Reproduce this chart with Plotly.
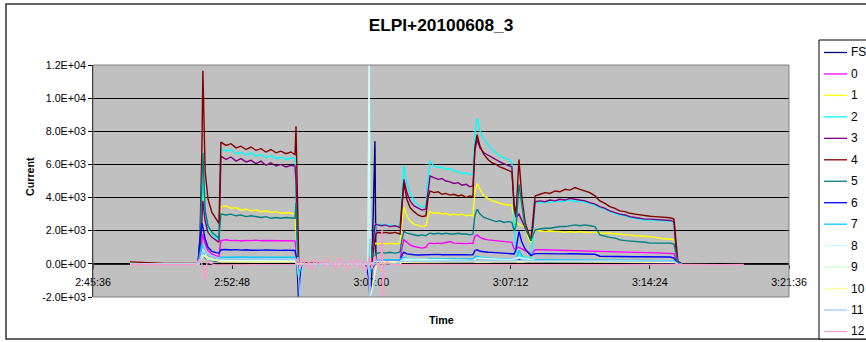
import plotly.graph_objects as go
from datetime import datetime

# ---------------------------------------------------------------
# ELPI impactor stage currents, 8 June 2010, run 3
# ---------------------------------------------------------------
TITLE = "ELPI+20100608_3"
SERIES_NAMES = ["FS", "0", "1", "2", "3", "4", "5", "6", "7", "8", "9", "10", "11", "12"]
SERIES_COLORS = ["#000080", "#FF00FF", "#FFFF00", "#00FFFF", "#800080", "#800000", "#008080",
                 "#0000FF", "#00CCFF", "#CCFFFF", "#CCFFCC", "#FFFF99", "#99CCFF", "#FF99CC"]

X_START, X_END = "2:45:36", "3:21:36"
X_STEP_S = 432                      # 7 min 12 s between time labels
Y_TICKS = [-2000, 0, 2000, 4000, 6000, 8000, 10000, 12000]

# Shared sampling times of the FS and 0-7 channels
T_MAIN = (
    ["2:47:31", "2:49:19", "2:51:02"]
    + ["2:51:08", "2:51:14", "2:51:17", "2:51:24", "2:51:33", "2:51:45", "2:51:58", "2:52:07"]
    + ["2:52:13", "2:52:29", "2:52:44", "2:53:00", "2:53:15", "2:53:31", "2:53:46", "2:54:02",
       "2:54:17", "2:54:33", "2:54:48", "2:55:04", "2:55:19", "2:55:35", "2:55:50", "2:56:03"]
    + ["2:56:06", "2:56:09", "2:56:12", "2:56:15", "2:56:18", "2:56:25"]
    + ["2:57:20", "2:58:38", "2:59:43"]
    + ["2:59:53", "2:59:56", "3:00:02", "3:00:11", "3:00:14", "3:00:20", "3:00:33", "3:00:42"]
    + ["3:00:58", "3:01:13", "3:01:29", "3:01:35", "3:01:41", "3:01:50", "3:02:00", "3:02:12",
       "3:02:25", "3:02:37", "3:02:49", "3:02:56", "3:03:02", "3:03:14", "3:03:27", "3:03:39",
       "3:03:51", "3:04:04", "3:04:16", "3:04:29", "3:04:41", "3:04:54", "3:05:06", "3:05:15",
       "3:05:21", "3:05:28", "3:05:37", "3:05:49", "3:06:02", "3:06:14", "3:06:27", "3:06:39",
       "3:06:51", "3:07:04", "3:07:16"]
    + ["3:07:23", "3:07:29", "3:07:38", "3:07:47", "3:07:57", "3:08:06", "3:08:15", "3:08:21", "3:08:28"]
    + ["3:08:43", "3:08:59", "3:09:14", "3:09:30", "3:09:45", "3:10:01", "3:10:16", "3:10:32",
       "3:10:47", "3:11:03", "3:11:18", "3:11:34", "3:11:49", "3:12:05", "3:12:20", "3:12:36",
       "3:12:51", "3:13:07", "3:13:22", "3:13:38", "3:13:54", "3:14:09", "3:14:25", "3:14:40",
       "3:14:56", "3:15:11", "3:15:27", "3:15:39"]
    + ["3:15:45", "3:15:51", "3:16:04"]
)

CUR_FS = (
    [0, 10, 0]
    + [300, 900, 700, 400, 250, 180, 150, 140]
    + [130, 120, 140, 125, 135, 120, 130, 125, 135, 120, 130, 125, 130, 120, 125, 120]
    + [100, 0, -1500, -2600, -800, 0]
    + [10, -10, 0]
    + [0, 0, 0, 7400, 300, 120, 100, 90]
    + [80, 90, 80, 150, 200, 150, 120, 110, 100, 100, 100, 120, 130, 120, 110, 115, 110, 110,
       105, 110, 100, 105, 100, 100, 180, 200, 170, 150, 140, 130, 130, 120, 120, 115, 110]
    + [100, 120, 250, 180, 130, 110, 100, 100, 110]
    + [110, 100, 110, 100, 105, 100, 105, 100, 100, 95, 100, 95, 80, 80, 75, 80, 75, 75, 70, 75,
       70, 70, 70, 65, 65, 65, 60, 60]
    + [30, 0, 0]
)

CUR_0 = (
    [0, 0, 0]
    + [400, 1400, 1800, 1200, 800, 600, 480, 450]
    + [1400, 1450, 1400, 1420, 1380, 1420, 1400, 1430, 1390, 1410, 1400, 1420, 1390, 1410, 1400, 1390]
    + [900, 300, 0, -100, 0, 0]
    + [0, 0, 0]
    + [0, -200, 0, 150, 200, 200, 180, 200]
    + [200, 180, 220, 1000, 1450, 1300, 1150, 1050, 1000, 950, 1000, 1200, 1250, 1220, 1250,
       1230, 1300, 1350, 1250, 1230, 1250, 1220, 1250, 1230, 1650, 1750, 1600, 1500, 1450,
       1420, 1400, 1350, 1330, 1320, 1300]
    + [900, 950, 1000, 900, 800, 700, 600, 700, 850]
    + [850, 840, 830, 840, 820, 810, 820, 800, 790, 780, 780, 760, 740, 730, 720, 710, 710, 700,
       700, 690, 690, 680, 680, 670, 670, 660, 650, 620]
    + [300, 50, 0]
)

CUR_1 = (
    [0, 0, 0]
    + [700, 3000, 4200, 2800, 2000, 1600, 1400, 1300]
    + [3450, 3500, 3350, 3400, 3250, 3300, 3200, 3250, 3150, 3200, 3100, 3150, 3050, 3100, 3050, 3000]
    + [2000, 500, 0, -200, 0, 0]
    + [0, 0, 0]
    + [0, 200, 700, 1200, 1250, 1200, 1250, 1200]
    + [1250, 1200, 1250, 2600, 3450, 2900, 2600, 2400, 2300, 2250, 2300, 2900, 3150, 3050, 3100,
       3000, 3050, 2950, 3000, 2950, 3000, 2900, 2950, 2900, 4300, 4850, 4500, 4100, 3950,
       3800, 3750, 3650, 3600, 3550, 3550]
    + [2600, 2450, 2400, 2300, 2250, 1600, 1300, 1600, 2050]
    + [2000, 1950, 2000, 1950, 1950, 1900, 1950, 1900, 1950, 1900, 1900, 1900, 1850, 1850, 1850,
       1800, 1800, 1750, 1750, 1700, 1700, 1650, 1650, 1600, 1550, 1500, 1500, 1450]
    + [800, 100, 0]
)

CUR_2 = (
    [0, 10, 0]
    + [800, 3500, 5000, 3000, 2200, 1800, 1550, 1400]
    + [6950, 6800, 6900, 6650, 6750, 6550, 6700, 6500, 6600, 6400, 6550, 6350, 6450, 6300, 6400, 6350]
    + [4000, 800, -400, -800, -300, 0]
    + [-50, 30, -40]
    + [-300, -600, 300, 2200, 2400, 2350, 2400, 2300]
    + [2350, 2250, 2300, 4200, 5950, 4900, 4300, 3800, 3550, 3450, 3500, 5200, 6200, 5900, 5800,
       5850, 5700, 5750, 5600, 5550, 5450, 5500, 5350, 5450, 7800, 8800, 8000, 7500, 7200,
       6900, 6700, 6500, 6400, 6300, 6150]
    + [2500, 800, 500, 450, 400, 350, 300, 1500, 3650]
    + [3700, 3750, 3700, 3800, 3750, 3800, 3850, 3750, 3800, 3700, 3650, 3550, 3400, 3300, 3150,
       3050, 2950, 2900, 2800, 2750, 2700, 2650, 2650, 2620, 2600, 2600, 2580, 2500]
    + [700, 80, 0]
)

CUR_3 = (
    [0, 20, 10]
    + [500, 2500, 3800, 2600, 1900, 1600, 1400, 1300]
    + [6500, 6300, 6450, 6200, 6350, 6150, 6250, 6050, 6200, 5950, 6100, 5900, 6000, 5850, 5950, 5900]
    + [5000, 1500, 200, -100, 0, 30]
    + [10, -20, 0]
    + [0, 100, 800, 2300, 2400, 2350, 2300, 2350]
    + [2250, 2300, 2200, 3800, 5100, 4300, 3800, 3500, 3350, 3250, 3300, 4500, 5300, 5200, 5100,
       5150, 5000, 4950, 4850, 4900, 4750, 4800, 4650, 4700, 6800, 7500, 7000, 6700, 6550,
       6450, 6300, 6150, 6050, 5950, 5850]
    + [3300, 2800, 3000, 2600, 2100, 1800, 1500, 2200, 3750]
    + [3800, 3750, 3850, 3800, 3900, 3850, 3950, 3900, 3850, 3800, 3700, 3600, 3450, 3350, 3200,
       3100, 3000, 2950, 2850, 2800, 2750, 2700, 2700, 2680, 2650, 2650, 2620, 2550]
    + [900, 100, 0]
)

CUR_4 = (
    [120, 30, 20]
    + [1500, 7000, 11650, 5600, 3900, 3100, 2700, 2450]
    + [7350, 7150, 7250, 7000, 7100, 6900, 7050, 6850, 6950, 6750, 6900, 6700, 6800, 6650, 6750, 6600]
    + [8300, 5000, 600, -300, -100, 50]
    + [20, -30, 10]
    + [50, -200, 100, 1500, 1800, 1900, 1850, 1900]
    + [1850, 1900, 1800, 3500, 4900, 3900, 3400, 3150, 2950, 2850, 2900, 4000, 4400, 4300, 4350,
       4200, 4250, 4150, 4200, 4100, 4150, 4000, 4100, 4050, 7000, 7800, 7100, 6600, 6300,
       6100, 6000, 5850, 5750, 5650, 5550]
    + [3600, 3000, 6300, 4000, 2500, 2000, 1400, 2600, 4100]
    + [4200, 4300, 4250, 4400, 4350, 4500, 4450, 4600, 4500, 4400, 4300, 4100, 3800, 3650, 3450,
       3350, 3200, 3150, 3050, 3000, 2950, 2900, 2870, 2850, 2820, 2800, 2780, 2700]
    + [1200, 150, 0]
)

CUR_5 = (
    [0, 20, 0]
    + [1500, 5000, 6700, 3200, 2300, 1900, 1700, 1550]
    + [3000, 2950, 3000, 2900, 2950, 2850, 2900, 2850, 2800, 2850, 2750, 2800, 2750, 2800, 2750, 2750]
    + [3700, 2000, 200, -100, 0, 0]
    + [0, 0, 0]
    + [0, 1500, 400, 500, 600, 650, 700, 650]
    + [700, 650, 700, 1500, 1950, 1850, 1800, 1750, 1700, 1750, 1700, 1800, 1850, 1800, 1850,
       1800, 1850, 1800, 1800, 1850, 1800, 1800, 1750, 1800, 2900, 3300, 3000, 2800, 2700,
       2650, 2550, 2600, 2500, 2550, 2500]
    + [2000, 2300, 4800, 3500, 2200, 1800, 1400, 1700, 2050]
    + [2100, 2150, 2150, 2200, 2250, 2250, 2300, 2350, 2300, 2350, 2300, 2250, 1750, 1650, 1600,
       1550, 1450, 1400, 1380, 1350, 1300, 1300, 1250, 1250, 1250, 1250, 1250, 1200]
    + [500, 50, 0]
)

CUR_6 = (
    [0, 0, 0]
    + [1500, 2450, 2200, 1500, 1000, 750, 680, 650]
    + [850, 870, 840, 860, 830, 850, 820, 845, 830, 840, 820, 835, 815, 830, 820, 810]
    + [500, 200, 0, -300, 0, 0]
    + [0, 0, 0]
    + [-1000, -2600, -300, 100, 150, 150, 150, 150]
    + [150, 140, 160, 550, 700, 600, 560, 550, 530, 540, 530, 560, 580, 560, 570, 550, 570, 560,
       550, 560, 540, 550, 540, 550, 800, 850, 760, 720, 700, 690, 680, 670, 660, 650, 640]
    + [600, 900, 1950, 1300, 900, 700, 500, 550, 620]
    + [620, 610, 620, 600, 610, 600, 610, 600, 600, 590, 600, 580, 460, 450, 450, 440, 440, 440,
       430, 430, 430, 420, 420, 420, 420, 410, 410, 350]
    + [200, 0, 0]
)

CUR_7 = (
    [0, 0, 0]
    + [600, 1200, 1000, 700, 450, 320, 260, 240]
    + [400, 420, 400, 410, 390, 410, 400, 415, 395, 405, 400, 410, 395, 400, 405, 400]
    + [300, 100, -200, -500, -100, 0]
    + [0, 0, 0]
    + [-200, -400, -200, 100, 200, 220, 250, 250]
    + [250, 240, 260, 350, 400, 330, 300, 280, 270, 270, 260, 300, 320, 300, 310, 300, 310, 300,
       300, 310, 300, 300, 290, 300, 420, 460, 400, 370, 350, 340, 330, 320, 310, 300, 290]
    + [250, 300, 800, 500, 300, 250, 200, 200, 250]
    + [250, 250, 245, 250, 240, 245, 240, 240, 235, 240, 230, 230, 220, 220, 215, 215, 210, 210,
       205, 205, 200, 200, 195, 195, 190, 190, 185, 180]
    + [80, 0, 0]
)

# Fine stages 8-12 were logged on their own time points
CUR_8 = [("2:47:31", 0), ("2:51:05", 0), ("2:51:17", 900), ("2:51:33", 300), ("2:52:13", 200),
         ("2:56:03", 180), ("2:56:09", 0), ("2:59:43", 0), ("2:59:49", 0), ("2:59:53", 13500),
         ("2:59:56", 0), ("3:00:11", 150), ("3:01:29", 150), ("3:01:41", 300), ("3:05:15", 200),
         ("3:05:28", 350), ("3:07:16", 250), ("3:07:38", 400), ("3:08:28", 200), ("3:15:39", 150),
         ("3:15:51", 0)]

CUR_9 = [("2:47:31", 0), ("2:51:05", 0), ("2:51:17", 600), ("2:51:33", 250), ("2:52:13", 150),
         ("2:56:03", 140), ("2:56:09", 0), ("3:01:29", 0), ("3:01:41", 200), ("3:07:16", 180),
         ("3:08:28", 150), ("3:15:39", 120), ("3:15:51", 0)]

CUR_10 = [("2:47:31", 0), ("2:51:05", 0), ("2:51:17", 500), ("2:52:13", 120), ("2:56:03", 110),
          ("2:56:09", 0), ("2:59:53", 0), ("2:59:56", -2200), ("3:00:02", -1500), ("3:00:11", -600),
          ("3:00:14", -250), ("3:00:20", 0), ("3:00:42", 100), ("3:07:16", 120), ("3:15:39", 100),
          ("3:15:51", 0)]

CUR_11 = [("2:47:31", 0), ("2:51:05", 0), ("2:51:17", 700), ("2:52:13", 300), ("2:56:03", 280),
          ("2:56:09", 0), ("2:56:15", -1000), ("2:56:18", -2500), ("2:56:25", -300), ("2:56:31", 0),
          ("2:59:53", 0), ("2:59:56", -2600), ("3:00:02", -2000), ("3:00:11", -1200),
          ("3:00:20", -800), ("3:00:33", -500), ("3:00:42", -300), ("3:00:58", -100),
          ("3:01:29", 150), ("3:07:16", 200), ("3:15:39", 150), ("3:15:51", 0)]

CUR_12 = [("2:47:31", -40), ("2:49:04", -30), ("2:50:53", -50), ("2:51:08", 300), ("2:51:17", -200),
          ("2:51:24", -900), ("2:51:30", 100), ("2:51:55", -60), ("2:53:12", -40), ("2:54:45", -50),
          ("2:56:06", -30), ("2:56:12", 400), ("2:56:18", -300), ("2:56:28", 250), ("2:56:37", -200),
          ("2:56:46", 150), ("2:56:56", -350), ("2:57:05", 300), ("2:57:14", -100), ("2:57:24", 200),
          ("2:57:33", -250), ("2:57:42", 350), ("2:57:52", -150), ("2:58:01", 100), ("2:58:10", -300),
          ("2:58:19", 400), ("2:58:29", -200), ("2:58:38", 150), ("2:58:47", -400), ("2:58:57", 250),
          ("2:59:06", -150), ("2:59:15", 300), ("2:59:25", -300), ("2:59:34", 200), ("2:59:43", -500),
          ("2:59:53", 400), ("3:00:02", -300), ("3:00:11", 500), ("3:00:20", -200), ("3:00:30", 300),
          ("3:00:33", 2200), ("3:00:36", -2600), ("3:00:39", -100), ("3:00:48", 100), ("3:01:04", -50),
          ("3:02:31", -40), ("3:04:35", -50), ("3:06:39", -40), ("3:08:43", -50), ("3:10:47", -40),
          ("3:12:51", -50), ("3:14:56", -40), ("3:15:48", -60), ("3:16:29", -40), ("3:18:02", -50),
          ("3:19:16", -40)]


def clock(t):
    h, m, s = (int(p) for p in t.split(":"))
    return datetime(2010, 6, 8, h, m, s)


main_sets = [CUR_FS, CUR_0, CUR_1, CUR_2, CUR_3, CUR_4, CUR_5, CUR_6, CUR_7]
for vals in main_sets:
    assert len(vals) == len(T_MAIN), (len(vals), len(T_MAIN))

series = [([clock(t) for t in T_MAIN], v) for v in main_sets]
for pairs in [CUR_8, CUR_9, CUR_10, CUR_11, CUR_12]:
    series.append(([clock(t) for t, _ in pairs], [v for _, v in pairs]))

# ---------------------------------------------------------------
# Layout geometry (pixels)
# ---------------------------------------------------------------
W, H = 866, 342
PL, PR, PT, PB = 93, 789, 65, 297
FONT = "Liberation Sans, Arial, sans-serif"


def fx(px):
    return (px - PL) / (PR - PL)


def fy(py):
    return (PB - py) / (PB - PT)


fig = go.Figure()
for name, color, (xs, ys) in zip(SERIES_NAMES, SERIES_COLORS, series):
    fig.add_trace(go.Scatter(x=xs, y=ys, name=name, mode="lines",
                             line=dict(color=color, width=1.4), hoverinfo="skip"))

y_min, y_max = Y_TICKS[0], Y_TICKS[-1]
zero_pos = (0 - y_min) / (y_max - y_min)

fig.update_layout(
    width=W, height=H,
    margin=dict(l=PL, r=W - PR, t=PT, b=H - PB, autoexpand=False),
    paper_bgcolor="white", plot_bgcolor="#C0C0C0",
    showlegend=False,
    font=dict(family=FONT, size=10.7, color="black"),
    title=dict(text=TITLE, x=0.5, xref="paper", xanchor="center",
               y=1 - 25 / H, yanchor="middle",
               font=dict(family=FONT, size=17.3, weight="bold", color="black")),
    xaxis=dict(
        type="date",
        range=[clock(X_START), clock(X_END)],
        tick0=clock(X_START), dtick=X_STEP_S * 1000,
        tickformat="%-H:%M:%S",
        anchor="free", position=zero_pos,
        showline=True, linecolor="#222222", linewidth=1,
        ticks="outside", ticklen=4, tickcolor="#222222",
        ticklabelstandoff=4,
        showgrid=False, zeroline=False, layer="below traces",
        tickfont=dict(size=10.7, color="black"),
    ),
    yaxis=dict(
        range=[y_min, y_max],
        tickvals=Y_TICKS, ticktext=[f"{v:.1E}" for v in Y_TICKS],
        showline=True, linecolor="black", linewidth=1,
        ticks="outside", ticklen=4, tickcolor="black",
        showgrid=True, gridcolor="black", gridwidth=1,
        zeroline=False,
        tickfont=dict(size=10.7, color="black"),
    ),
)

shapes = [
    # plot area frame
    dict(type="rect", xref="paper", yref="paper", x0=0, x1=1, y0=0, y1=1,
         line=dict(color="#808080", width=1), layer="above"),
    # chart frame
    dict(type="rect", xref="paper", yref="paper", x0=fx(6), x1=fx(905), y0=fy(339), y1=fy(4),
         line=dict(color="#333333", width=1.5), layer="above"),
    # legend box
    dict(type="rect", xref="paper", yref="paper", x0=fx(819), x1=fx(905), y0=fy(339), y1=fy(40),
         line=dict(color="black", width=1), fillcolor="white", layer="above"),
]

annotations = [
    dict(text="Current", xref="paper", yref="paper", x=fx(30), y=fy(177), textangle=-90,
         showarrow=False, xanchor="center", yanchor="middle",
         font=dict(family=FONT, size=10.7, weight="bold", color="black")),
    dict(text="Time", xref="paper", yref="paper", x=fx(441), y=fy(320),
         showarrow=False, xanchor="center", yanchor="middle",
         font=dict(family=FONT, size=10.7, weight="bold", color="black")),
]

# legend entries
row0, row_step = 52.5, 21.46
for i, (name, color) in enumerate(zip(SERIES_NAMES, SERIES_COLORS)):
    ry = row0 + i * row_step
    shapes.append(dict(type="line", xref="paper", yref="paper", x0=fx(824), x1=fx(847),
                       y0=fy(ry), y1=fy(ry), line=dict(color=color, width=1.3), layer="above"))
    annotations.append(dict(text=name, xref="paper", yref="paper", x=fx(849), y=fy(ry),
                            showarrow=False, xanchor="left", yanchor="middle",
                            font=dict(family=FONT, size=12, color="black")))

fig.update_layout(shapes=shapes, annotations=annotations)
fig.write_html("out.html")
